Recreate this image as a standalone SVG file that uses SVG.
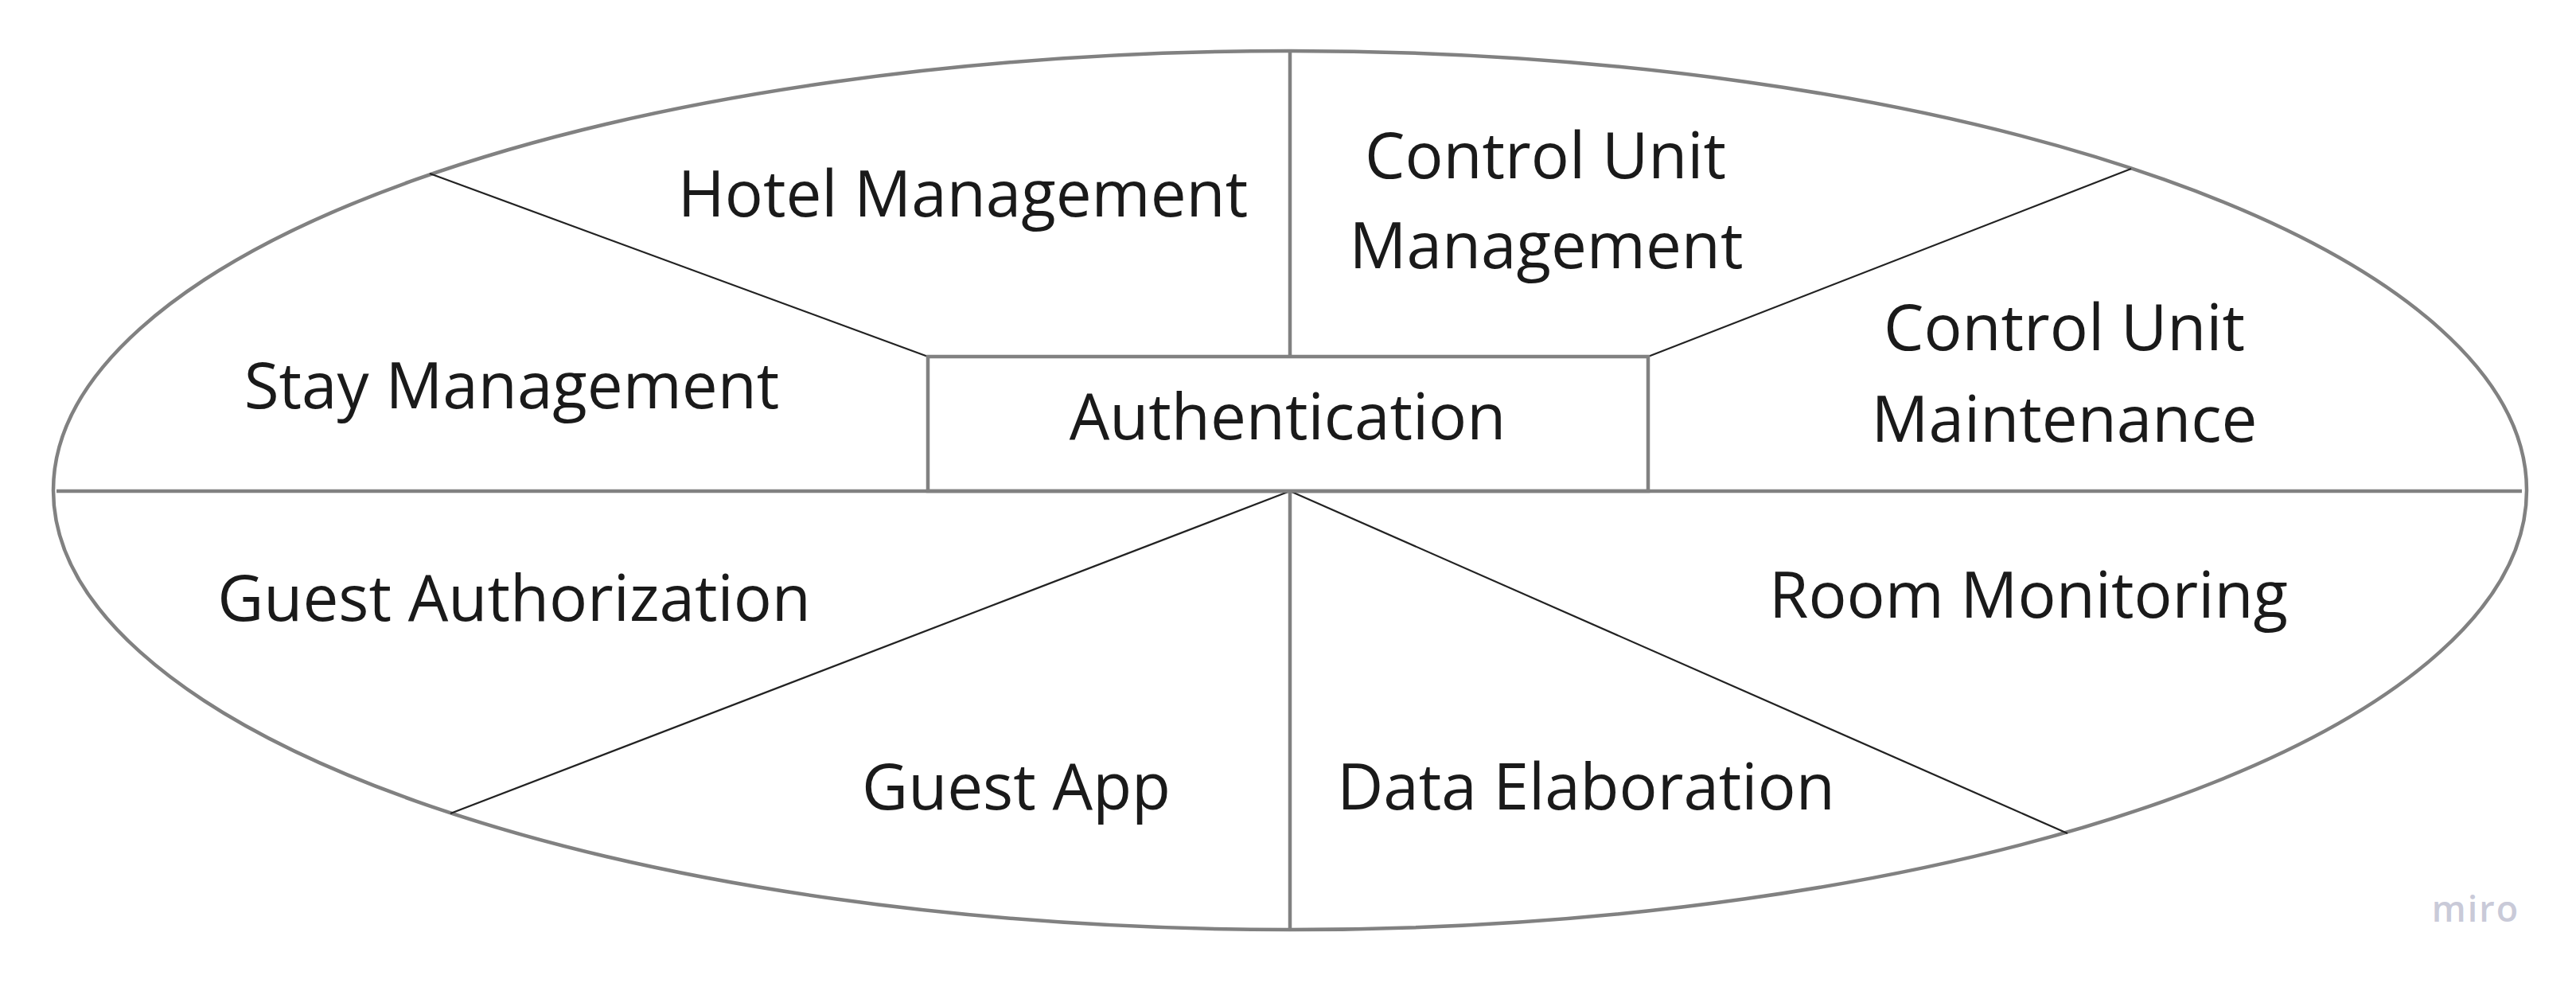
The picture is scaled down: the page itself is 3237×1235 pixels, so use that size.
<svg xmlns="http://www.w3.org/2000/svg" width="3237" height="1235" viewBox="0 0 3237 1235">
<style>
.frame{fill:none;stroke:#818181;stroke-width:4.5}
.div{fill:none;stroke:#222222;stroke-width:2.2}
.lbl{font-family:"Open Sans","Noto Sans",sans-serif;font-size:80px;fill:#1a1a1a;text-anchor:middle}
.logo{font-family:"Open Sans","Noto Sans",sans-serif;font-size:45px;font-weight:600;fill:#c9cad8;text-anchor:middle;letter-spacing:2px}
</style>
<rect width="3237" height="1235" fill="#ffffff"/>
<g id="connectors">
<ellipse class="frame" cx="1621" cy="616" rx="1554" ry="552"/>
<line class="frame" x1="71" y1="617" x2="3169" y2="617"/>
<line class="frame" x1="1621" y1="64" x2="1621" y2="448"/>
<line class="frame" x1="1621" y1="617" x2="1621" y2="1168"/>
<line class="div" x1="540" y1="218" x2="1166" y2="448"/>
<line class="div" x1="2678" y1="212" x2="2071" y2="448"/>
<line class="div" x1="566" y1="1022" x2="1621" y2="617"/>
<line class="div" x1="2598" y1="1047" x2="1621" y2="617"/>
</g>
<g id="auth">
<rect class="frame" x="1166" y="448" width="905" height="169" fill="#ffffff"/>
<text class="lbl" x="1618" y="552">Authentication</text>
</g>
<g id="hotel"><text class="lbl" x="1210" y="272">Hotel Management</text></g>
<g id="cu-mgmt"><text class="lbl" x="1942" y="224">Control Unit</text><text class="lbl" x="1943" y="337">Management</text></g>
<g id="stay"><text class="lbl" x="643" y="513">Stay Management</text></g>
<g id="cu-maint"><text class="lbl" x="2594" y="440">Control Unit</text><text class="lbl" x="2594" y="555">Maintenance</text></g>
<g id="guest-auth"><text class="lbl" x="646" y="780">Guest Authorization</text></g>
<g id="room"><text class="lbl" x="2549" y="776">Room Monitoring</text></g>
<g id="guest-app"><text class="lbl" x="1277" y="1017">Guest App</text></g>
<g id="data"><text class="lbl" x="1993" y="1017">Data Elaboration</text></g>
<text class="logo" x="3111" y="1158">miro</text>
</svg>
